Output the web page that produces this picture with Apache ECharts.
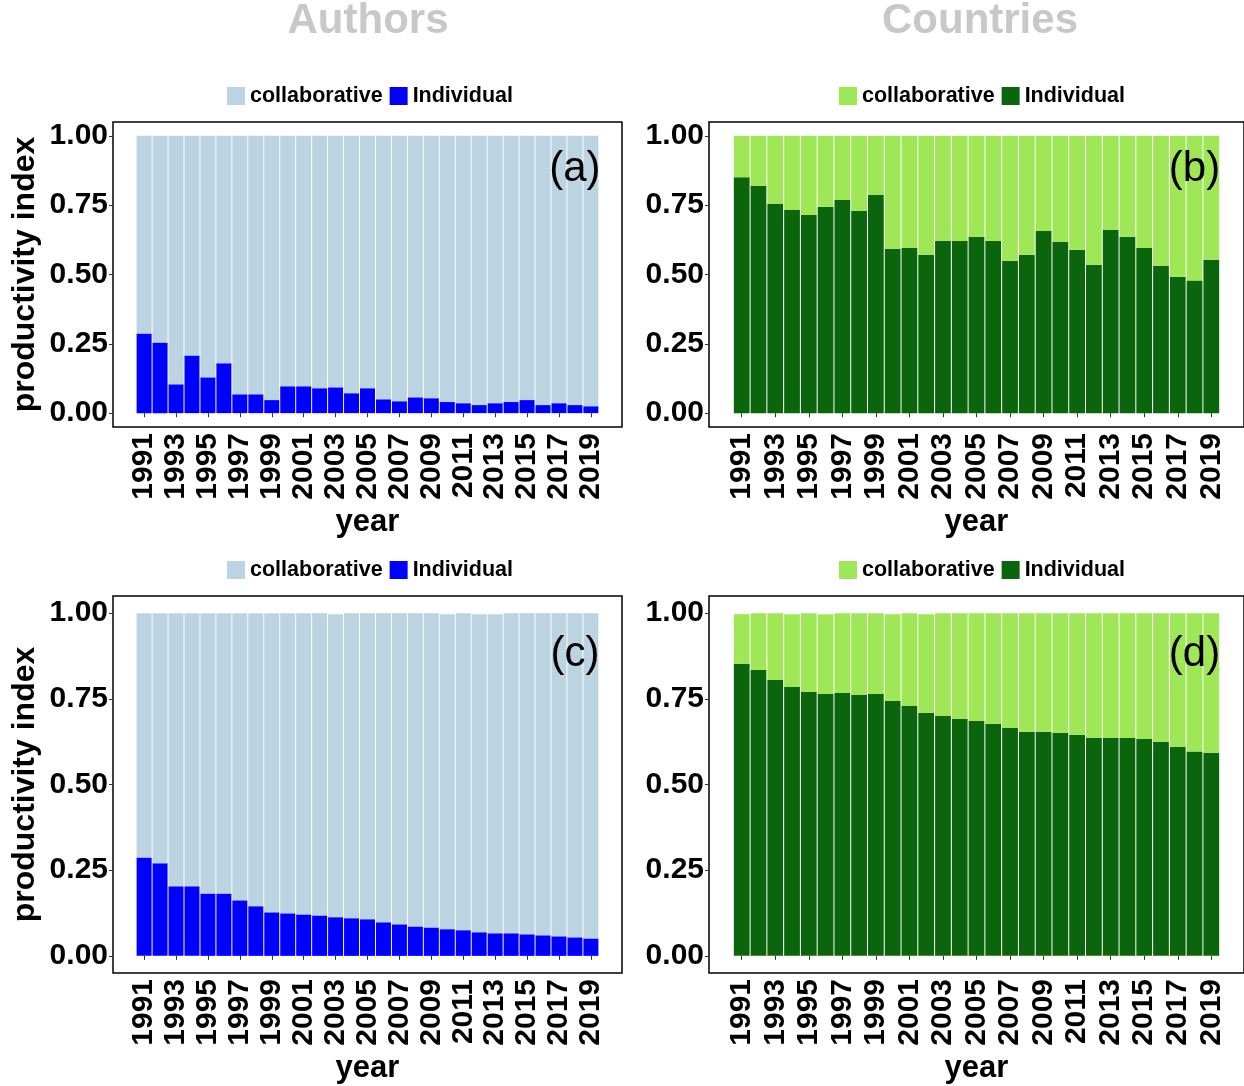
<!DOCTYPE html>
<html>
<head>
<meta charset="utf-8">
<script src="https://cdn.jsdelivr.net/npm/echarts@6/dist/echarts.min.js"></script>
<style>
  html, body { margin: 0; padding: 0; background: #fff; }
  #chart { width: 1244px; height: 1086px; }
</style>
</head>
<body>
<div id="chart"></div>
<script>
// Publication years shown on every panel
const years = [1991, 1992, 1993, 1994, 1995, 1996, 1997, 1998, 1999, 2000,
  2001, 2002, 2003, 2004, 2005, 2006, 2007, 2008, 2009, 2010,
  2011, 2012, 2013, 2014, 2015, 2016, 2017, 2018, 2019];
const yearTicks = [1991, 1993, 1995, 1997, 1999, 2001, 2003, 2005, 2007, 2009, 2011, 2013, 2015, 2017, 2019];
const indexTicks = [0, 0.25, 0.5, 0.75, 1];

// (a) authors, yearly productivity index
const authorsIndivA = [0.287, 0.255, 0.104, 0.208, 0.129, 0.180, 0.068, 0.068, 0.047, 0.097,
  0.097, 0.090, 0.093, 0.072, 0.090, 0.050, 0.043, 0.057, 0.054, 0.040,
  0.036, 0.029, 0.036, 0.040, 0.047, 0.029, 0.036, 0.029, 0.025];
const authorsCollabA = [0.713, 0.745, 0.896, 0.792, 0.871, 0.820, 0.932, 0.932, 0.953, 0.903,
  0.903, 0.910, 0.907, 0.928, 0.910, 0.950, 0.957, 0.943, 0.946, 0.960,
  0.964, 0.971, 0.964, 0.960, 0.953, 0.971, 0.964, 0.971, 0.975];

// (b) countries, yearly productivity index
const countriesIndivB = [0.851, 0.819, 0.754, 0.733, 0.715, 0.744, 0.769, 0.729, 0.787, 0.593,
  0.596, 0.571, 0.622, 0.622, 0.636, 0.622, 0.550, 0.571, 0.657, 0.618,
  0.589, 0.535, 0.661, 0.636, 0.596, 0.532, 0.492, 0.478, 0.553];
const countriesCollabB = [0.149, 0.181, 0.246, 0.267, 0.285, 0.256, 0.231, 0.271, 0.213, 0.407,
  0.404, 0.429, 0.378, 0.378, 0.364, 0.378, 0.450, 0.429, 0.343, 0.382,
  0.411, 0.465, 0.339, 0.364, 0.404, 0.468, 0.508, 0.522, 0.447];

// (c) authors, cumulative productivity index
const authorsIndivC = [0.287, 0.270, 0.203, 0.203, 0.182, 0.182, 0.162, 0.145, 0.127, 0.124,
  0.121, 0.118, 0.113, 0.110, 0.107, 0.098, 0.092, 0.086, 0.083, 0.078,
  0.075, 0.069, 0.066, 0.066, 0.063, 0.060, 0.057, 0.054, 0.051];
const authorsCollabC = [0.713, 0.730, 0.797, 0.797, 0.818, 0.818, 0.838, 0.855, 0.873, 0.876,
  0.879, 0.882, 0.884, 0.890, 0.893, 0.902, 0.908, 0.914, 0.917, 0.919,
  0.925, 0.928, 0.931, 0.934, 0.937, 0.940, 0.943, 0.946, 0.949];

// (d) countries, cumulative productivity index
const countriesIndivD = [0.852, 0.834, 0.805, 0.785, 0.770, 0.764, 0.767, 0.761, 0.764, 0.744,
  0.729, 0.709, 0.700, 0.692, 0.686, 0.677, 0.665, 0.654, 0.654, 0.651,
  0.645, 0.636, 0.636, 0.636, 0.633, 0.625, 0.610, 0.596, 0.593];
const countriesCollabD = [0.145, 0.166, 0.195, 0.212, 0.230, 0.233, 0.233, 0.239, 0.236, 0.253,
  0.271, 0.288, 0.300, 0.308, 0.314, 0.323, 0.335, 0.346, 0.346, 0.349,
  0.355, 0.364, 0.364, 0.364, 0.367, 0.375, 0.390, 0.404, 0.407];

const FONT = '"Liberation Sans", Arial, Helvetica, sans-serif';
const BLUE = { collab: '#bcd3e1', indiv: '#0000ff' };
const GREEN = { collab: '#9fe757', indiv: '#0a650c' };
const BAR_HALF = 0.47; // half of a bar's width, in years

const panels = [
  { grid: { left: 113, top: 122, width: 509, height: 305 }, indiv: authorsIndivA, collab: authorsCollabA, colors: BLUE, yName: 'productivity index', tag: '(a)', legend: { left: 227, top: 85 } },
  { grid: { left: 709, top: 122, width: 545, height: 305 }, indiv: countriesIndivB, collab: countriesCollabB, colors: GREEN, yName: '', tag: '(b)', legend: { left: 839, top: 85 } },
  { grid: { left: 113, top: 596, width: 509, height: 377 }, indiv: authorsIndivC, collab: authorsCollabC, colors: BLUE, yName: 'productivity index', tag: '(c)', legend: { left: 227, top: 559 } },
  { grid: { left: 709, top: 596, width: 545, height: 377 }, indiv: countriesIndivD, collab: countriesCollabD, colors: GREEN, yName: '', tag: '(d)', legend: { left: 839, top: 559 } }
];

const boldText = (size) => ({ fontFamily: FONT, fontWeight: 'bold', fontSize: size, color: '#000' });

// Stacked segment rows: [year, segment bottom, segment top]
const lowerRows = (indiv) => years.map((y, i) => [y, 0, indiv[i]]);
const upperRows = (indiv, collab) => years.map((y, i) => [y, indiv[i], indiv[i] + collab[i]]);

// Draws one stacked segment through the grid's own scales
function segment(params, api) {
  const x = api.value(0);
  const p0 = api.coord([x - BAR_HALF, api.value(1)]);
  const p1 = api.coord([x + BAR_HALF, api.value(2)]);
  return {
    type: 'rect',
    shape: { x: p0[0], y: p1[1], width: p1[0] - p0[0], height: p0[1] - p1[1] },
    style: { fill: api.visual('color') }
  };
}

const option = {
  animation: false,
  backgroundColor: '#fff',
  grid: panels.map(p => Object.assign({ show: true, borderColor: '#000', borderWidth: 1.5, backgroundColor: '#fff' }, p.grid)),
  xAxis: panels.map((p, i) => ({
    type: 'value', gridIndex: i, min: 1989.05, max: 2020.95,
    axisLine: { show: false },
    splitLine: { show: false },
    axisTick: { show: true, customValues: yearTicks, length: 4, lineStyle: { color: '#333', width: 1 } },
    axisLabel: Object.assign({ customValues: yearTicks, rotate: 90, margin: 6, formatter: v => String(v) }, boldText(30)),
    name: 'year', nameLocation: 'middle', nameGap: 80,
    nameTextStyle: boldText(31)
  })),
  yAxis: panels.map((p, i) => ({
    type: 'value', gridIndex: i, min: -0.05, max: 1.05,
    axisLine: { show: false },
    splitLine: { show: false },
    axisTick: { show: true, customValues: indexTicks, length: 4, lineStyle: { color: '#333', width: 1 } },
    axisLabel: Object.assign({ customValues: indexTicks, margin: 5, formatter: v => v.toFixed(2) }, boldText(30)),
    name: p.yName, nameLocation: 'middle', nameGap: 72,
    nameTextStyle: boldText(32)
  })),
  legend: panels.map(p => ({
    left: p.legend.left, top: p.legend.top, orient: 'horizontal',
    icon: 'rect', itemWidth: 18, itemHeight: 18, itemGap: 7, padding: 0,
    selectedMode: false,
    textStyle: boldText(21.5),
    data: [
      { name: 'collaborative', itemStyle: { color: p.colors.collab } },
      { name: 'Individual', itemStyle: { color: p.colors.indiv } }
    ]
  })),
  series: panels.flatMap((p, i) => [
    {
      name: 'Individual', type: 'custom', xAxisIndex: i, yAxisIndex: i,
      renderItem: segment, itemStyle: { color: p.colors.indiv },
      encode: { x: 0, y: [1, 2] },
      data: lowerRows(p.indiv)
    },
    {
      name: 'collaborative', type: 'custom', xAxisIndex: i, yAxisIndex: i,
      renderItem: segment, itemStyle: { color: p.colors.collab },
      encode: { x: 0, y: [1, 2] },
      data: upperRows(p.indiv, p.collab)
    }
  ])
};

const chart = echarts.init(document.getElementById('chart'), null, { renderer: 'canvas' });
chart.setOption(option);

// Column headings and panel tags
const graphics = [
  { type: 'text', x: 368, y: 21, style: { text: 'Authors', fontFamily: FONT, fontWeight: 'bold', fontSize: 42, fill: '#c8c8c8', align: 'center', verticalAlign: 'middle' } },
  { type: 'text', x: 980, y: 21, style: { text: 'Countries', fontFamily: FONT, fontWeight: 'bold', fontSize: 42, fill: '#c8c8c8', align: 'center', verticalAlign: 'middle' } }
];
panels.forEach((p, i) => {
  const pt = chart.convertToPixel({ gridIndex: i }, [2018, 0.88]);
  graphics.push({ type: 'text', x: pt[0], y: pt[1], z: 10,
    style: { text: p.tag, fontFamily: FONT, fontSize: 42, fill: '#000', align: 'center', verticalAlign: 'middle' } });
});
chart.setOption({ graphic: graphics });
</script>
</body>
</html>
